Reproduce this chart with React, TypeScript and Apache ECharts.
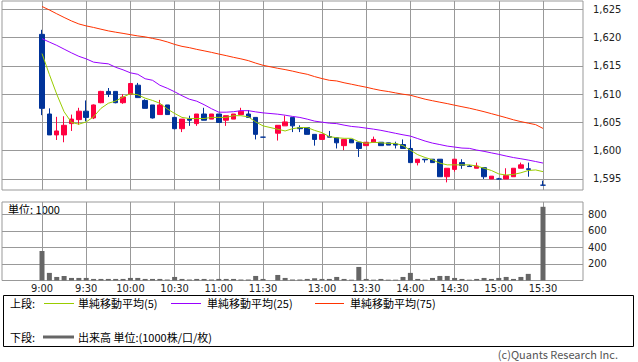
import React, { useEffect, useRef } from "react";
import * as echarts from "echarts";

// 5-minute slots: 0 = 9:00 ... 30 = 11:30, 31 = lunch gap, 32 = 12:30 ... 68 = 15:30
const slotCount = 69;
const tickSlots = [0, 6, 12, 18, 24, 30, 38, 44, 50, 56, 62, 68];
const tickLabels = ["9:00", "9:30", "10:00", "10:30", "11:00", "11:30", "13:00", "13:30", "14:00", "14:30", "15:00", "15:30"];
const priceTicks = [1595, 1600, 1605, 1610, 1615, 1620, 1625];
const volumeTicks = [200, 400, 600, 800];

const opens = [
  1620.6, 1606.5, 1602.8, 1602.8, 1604.8, 1605.5, 1607.0, 1605.8, 1608.5, 1610.5,
  1610.5, 1608.5, 1610.0, 1611.6, 1608.9, 1608.1, 1606.4, 1608.1, 1605.9, 1603.9,
  1605.6, 1604.8, 1606.5, 1605.6, 1606.5, 1605.4, 1605.6, 1606.4, 1606.5, 1605.9,
  1602.4, null, 1603.1, 1604.4, 1605.9, 1604.1, 1604.1, 1602.9, 1602.0, 1602.5,
  1602.3, 1600.9, 1602.0, 1601.5, 1600.9, 1601.5, 1601.5, 1601.4, 1601.2, 1601.1,
  1600.4, 1597.9, 1598.5, 1598.5, 1598.5, 1595.4, 1596.7, 1597.9, 1597.3, 1596.9,
  1597.0, 1595.0, 1595.0, 1595.0, 1595.4, 1596.9, 1596.8, null, 1593.9,
];
const closes = [
  1607.5, 1602.8, 1603.5, 1604.5, 1605.6, 1607.0, 1605.9, 1608.1, 1610.5, 1610.0,
  1608.5, 1609.5, 1611.9, 1609.4, 1607.5, 1605.8, 1608.1, 1606.4, 1603.9, 1605.6,
  1605.4, 1606.5, 1605.4, 1606.5, 1605.0, 1606.2, 1606.5, 1607.0, 1605.9, 1602.9,
  1602.4, null, 1604.5, 1605.1, 1604.4, 1603.9, 1602.9, 1602.0, 1602.9, 1602.4,
  1601.4, 1602.0, 1601.4, 1600.4, 1601.5, 1602.0, 1600.9, 1601.0, 1601.0, 1600.4,
  1597.9, 1598.5, 1598.4, 1597.9, 1595.4, 1596.9, 1598.5, 1597.4, 1597.2, 1597.3,
  1595.4, 1595.5, 1595.0, 1595.6, 1596.9, 1597.5, 1596.7, null, 1593.9,
];
const lows = [
  1606.3, 1602.8, 1601.9, 1601.5, 1603.5, 1604.6, 1605.2, 1605.6, 1608.4, 1609.5,
  1608.4, 1608.3, 1610.0, 1609.4, 1607.5, 1605.7, 1606.4, 1606.4, 1603.8, 1603.3,
  1604.4, 1604.4, 1605.4, 1605.6, 1605.0, 1604.4, 1605.6, 1606.4, 1605.9, 1602.0,
  1602.4, null, 1601.8, 1604.4, 1603.3, 1603.3, 1602.9, 1600.9, 1602.0, 1602.4,
  1600.4, 1600.1, 1601.4, 1598.9, 1600.9, 1601.5, 1600.9, 1601.0, 1600.4, 1600.4,
  1597.9, 1597.4, 1597.9, 1597.9, 1595.4, 1594.4, 1596.3, 1596.8, 1597.2, 1596.9,
  1595.0, 1595.0, 1595.0, 1595.0, 1595.4, 1596.9, 1595.4, null, 1593.9,
];
const highs = [
  1621.4, 1607.5, 1606.0, 1606.1, 1606.4, 1607.6, 1608.9, 1608.2, 1610.6, 1611.1,
  1610.5, 1610.0, 1612.0, 1612.0, 1609.1, 1608.1, 1609.0, 1608.1, 1606.0, 1605.6,
  1606.2, 1606.5, 1607.6, 1606.5, 1606.5, 1606.2, 1606.5, 1607.6, 1607.2, 1605.9,
  1602.4, null, 1604.5, 1606.2, 1605.9, 1604.5, 1604.2, 1602.9, 1602.9, 1603.5,
  1602.3, 1602.0, 1602.0, 1601.5, 1601.5, 1602.5, 1601.5, 1601.4, 1601.6, 1602.0,
  1602.0, 1598.5, 1598.5, 1598.5, 1598.5, 1596.9, 1598.5, 1598.5, 1597.5, 1597.9,
  1597.0, 1595.5, 1595.2, 1596.9, 1596.9, 1597.9, 1597.9, null, 1594.7,
];

const ma5 = [
  1617.2, 1613.5, 1610.0, 1606.9, 1605.0, 1604.7, 1605.1, 1606.0, 1607.5, 1608.4,
  1608.8, 1609.5, 1610.1, 1609.9, 1609.3, 1608.9, 1608.4, 1607.4, 1606.6, 1605.9,
  1605.7, 1605.7, 1605.7, 1605.9, 1605.9, 1605.9, 1606.2, 1606.2, 1606.0, 1605.1,
  1604.4, null, 1603.8, 1603.5, 1603.9, 1604.1, 1604.1, 1603.6, 1603.2, 1602.5,
  1602.3, 1602.2, 1602.2, 1601.6, 1601.3, 1601.5, 1601.4, 1601.3, 1601.3, 1600.9,
  1600.1, 1599.3, 1598.8, 1598.4, 1597.8, 1597.5, 1597.5, 1597.5, 1597.5, 1597.3,
  1596.9, 1596.5, 1595.9, 1595.7, 1595.8, 1596.1, 1596.5, 1596.6, 1596.3,
];
const ma25 = [
  1619.83, 1619.23, 1618.65, 1617.98, 1617.32, 1616.71, 1616.26, 1615.68, 1615.51, 1615.38,
  1614.77, 1614.32, 1613.79, 1613.53, 1612.74, 1612.47, 1611.59, 1611.06, 1610.44, 1609.74,
  1609.12, 1608.77, 1608.15, 1607.44, 1606.82, 1606.82, 1606.91, 1607.09, 1607.09, 1606.88,
  1606.7, null, 1606.47, 1606.29, 1606.07, 1605.89, 1605.59, 1605.24, 1605.06, 1604.88,
  1604.8, 1604.53, 1604.3, 1604.18, 1604.0, 1603.82, 1603.61, 1603.35, 1603.08, 1602.82,
  1602.59, 1602.15, 1601.71, 1601.35, 1601.09, 1600.82, 1600.65, 1600.47, 1600.42, 1600.12,
  1599.89, 1599.62, 1599.36, 1599.06, 1598.79, 1598.58, 1598.35, 1598.09, 1597.82,
];
const ma75 = [
  1625.53, 1624.91, 1624.24, 1623.59, 1622.97, 1622.44, 1622.09, 1621.82, 1621.51, 1621.21,
  1620.98, 1620.77, 1620.54, 1620.32, 1620.15, 1619.88, 1619.62, 1619.26, 1618.82, 1618.47,
  1618.24, 1617.94, 1617.68, 1617.41, 1617.11, 1616.83, 1616.53, 1616.26, 1615.95, 1615.51,
  1615.12, null, 1614.59, 1614.36, 1614.09, 1613.79, 1613.53, 1613.12, 1612.77, 1612.47,
  1612.35, 1612.03, 1611.77, 1611.5, 1611.24, 1610.94, 1610.67, 1610.48, 1610.23, 1610.0,
  1609.82, 1609.47, 1609.12, 1608.85, 1608.59, 1608.34, 1608.06, 1607.79, 1607.53, 1607.23,
  1606.91, 1606.56, 1606.21, 1605.85, 1605.47, 1605.15, 1604.88, 1604.62, 1603.95,
];
const volumes = [
  357, 92, 43, 55, 31, 31, 31, 19, 19, 19,
  19, 19, 31, 31, 19, 19, 19, 12, 43, 19,
  12, 19, 19, 12, 19, 19, 19, 12, 12, 55,
  19, null, 67, 31, 12, 12, 19, 27, 19, 19,
  43, 19, 10, 164, 19, 10, 19, 10, 10, 43,
  92, 19, 10, 31, 55, 55, 31, 19, 10, 19,
  31, 19, 31, 43, 19, 43, 80, null, 892,
];

const UP = "#FF0040";
const DOWN = "#003399";
const GRID = "#999999";
const NUM_FONT = "'DejaVu Sans Condensed', 'Liberation Sans', sans-serif";
const JP_FONT = "'Noto Sans CJK JP', sans-serif";

function pairs(arr: (number | null)[]) {
  const out: number[][] = [];
  for (let i = 0; i < slotCount; i++) {
    const v = arr[i];
    if (v !== null && v !== undefined) out.push([i, v]);
  }
  return out;
}

function slotLabel(v: number) {
  const k = tickSlots.indexOf(Math.round(v));
  return k >= 0 ? tickLabels[k] : "";
}

export default function App() {
  const ref = useRef<HTMLDivElement>(null);
  useEffect(() => {
    if (!ref.current) return;
    const chart = echarts.init(ref.current, undefined, { renderer: "svg" });
    const candles: number[][] = [];
    for (let i = 0; i < slotCount; i++) {
      if (opens[i] !== null) candles.push([i, opens[i] as number, closes[i] as number, lows[i] as number, highs[i] as number]);
    }
    const xMin = -5.43;
    const xMax = 73.43;
    const option: any = {
      animation: false,
      backgroundColor: "#ffffff",
      grid: [
        { left: 2, width: 581, top: 1, height: 189, show: true, borderColor: GRID, borderWidth: 1, backgroundColor: "transparent", containLabel: false, outerBoundsMode: "none" },
        { left: 2, width: 581, top: 202, height: 78.5, show: true, borderColor: GRID, borderWidth: 1, backgroundColor: "transparent", containLabel: false, outerBoundsMode: "none" },
      ],
      xAxis: [
        {
          type: "value", gridIndex: 0, min: xMin, max: xMax,
          axisLine: { show: false },
          axisTick: { show: false, customValues: tickSlots },
          axisLabel: { show: false, customValues: tickSlots },
          splitLine: { show: true, lineStyle: { color: GRID, width: 1 } },
        },
        {
          type: "value", gridIndex: 1, min: xMin, max: xMax,
          axisLine: { show: false },
          axisTick: { show: false, customValues: tickSlots },
          axisLabel: {
            show: true, customValues: tickSlots, formatter: (v: number) => slotLabel(v),
            fontSize: 11, color: "#222", fontFamily: NUM_FONT, margin: 2, hideOverlap: false,
          },
          splitLine: { show: true, lineStyle: { color: GRID, width: 1 } },
        },
      ],
      yAxis: [
        {
          type: "value", gridIndex: 0, position: "right", min: 1593.05, max: 1626.5, scale: true,
          axisLine: { show: false },
          axisTick: { show: true, inside: false, length: 9, customValues: priceTicks, lineStyle: { color: GRID } },
          axisLabel: {
            customValues: priceTicks, margin: 10, fontSize: 11, color: "#222", fontFamily: NUM_FONT,
            formatter: (v: number) => Math.round(v).toLocaleString("en-US"),
          },
          splitLine: { show: true, lineStyle: { color: GRID, width: 1 } },
        },
        {
          type: "value", gridIndex: 1, position: "right", min: 0, max: 950,
          axisLine: { show: false },
          axisTick: { show: true, inside: false, length: 3, customValues: volumeTicks, lineStyle: { color: GRID } },
          axisLabel: {
            customValues: volumeTicks, margin: 5, fontSize: 11, color: "#222", fontFamily: NUM_FONT,
            formatter: (v: number) => String(Math.round(v)),
          },
          splitLine: { show: true, lineStyle: { color: GRID, width: 1 } },
        },
      ],
      series: [
        {
          type: "candlestick", xAxisIndex: 0, yAxisIndex: 0, data: candles, barWidth: 5,
          itemStyle: {
            color: UP, color0: DOWN, borderColor: UP, borderColor0: DOWN, borderColorDoji: DOWN, borderWidth: 1,
          },
        },
        {
          type: "line", xAxisIndex: 0, yAxisIndex: 0, data: pairs(ma75), symbol: "none", showSymbol: false,
          lineStyle: { color: "#FF3300", width: 1 }, connectNulls: true,
        },
        {
          type: "line", xAxisIndex: 0, yAxisIndex: 0, data: pairs(ma25), symbol: "none", showSymbol: false,
          lineStyle: { color: "#9900FF", width: 1 }, connectNulls: true,
        },
        {
          type: "line", xAxisIndex: 0, yAxisIndex: 0, data: pairs(ma5), symbol: "none", showSymbol: false,
          lineStyle: { color: "#99CC00", width: 1 }, connectNulls: true,
        },
        {
          type: "bar", xAxisIndex: 1, yAxisIndex: 1, data: pairs(volumes), barWidth: 5,
          itemStyle: { color: "#666666" },
        },
      ],
      graphic: [
        { type: "text", left: 8, top: 203, style: { text: "単位: 1000", font: `11px ${JP_FONT}`, fill: "#000" } },
        { type: "rect", shape: { x: 3.5, y: 295.5, width: 630, height: 51 }, style: { fill: "#fff", stroke: "#000", lineWidth: 1 } },
        { type: "text", x: 10, y: 303, style: { text: "上段:", font: `11px ${JP_FONT}`, fill: "#000", verticalAlign: "middle" } },
        { type: "line", shape: { x1: 44, y1: 303.5, x2: 74, y2: 303.5 }, style: { stroke: "#99CC00", lineWidth: 1 } },
        { type: "text", x: 78, y: 303, style: { text: "単純移動平均(5)", font: `11px ${JP_FONT}`, fill: "#000", verticalAlign: "middle" } },
        { type: "line", shape: { x1: 171, y1: 303.5, x2: 201, y2: 303.5 }, style: { stroke: "#9900FF", lineWidth: 1 } },
        { type: "text", x: 207, y: 303, style: { text: "単純移動平均(25)", font: `11px ${JP_FONT}`, fill: "#000", verticalAlign: "middle" } },
        { type: "line", shape: { x1: 315, y1: 303.5, x2: 344, y2: 303.5 }, style: { stroke: "#FF3300", lineWidth: 1 } },
        { type: "text", x: 350, y: 303, style: { text: "単純移動平均(75)", font: `11px ${JP_FONT}`, fill: "#000", verticalAlign: "middle" } },
        { type: "text", x: 10, y: 337, style: { text: "下段:", font: `11px ${JP_FONT}`, fill: "#000", verticalAlign: "middle" } },
        { type: "line", shape: { x1: 43, y1: 337, x2: 74, y2: 337 }, style: { stroke: "#666666", lineWidth: 3 } },
        { type: "text", x: 78, y: 337, style: { text: "出来高 単位:(1000株/口/枚)", font: `11px ${JP_FONT}`, fill: "#000", verticalAlign: "middle" } },
        { type: "text", x: 618, y: 354, style: { text: "(c)Quants Research Inc.", font: `11px ${JP_FONT}`, fill: "#555", align: "right", verticalAlign: "middle" } },
      ],
    };
    chart.setOption(option);
    return () => chart.dispose();
  }, []);
  return (
    <div
      ref={ref}
      style={{ position: "fixed", left: 0, top: 0, width: 638, height: 362, background: "#fff" }}
    />
  );
}
